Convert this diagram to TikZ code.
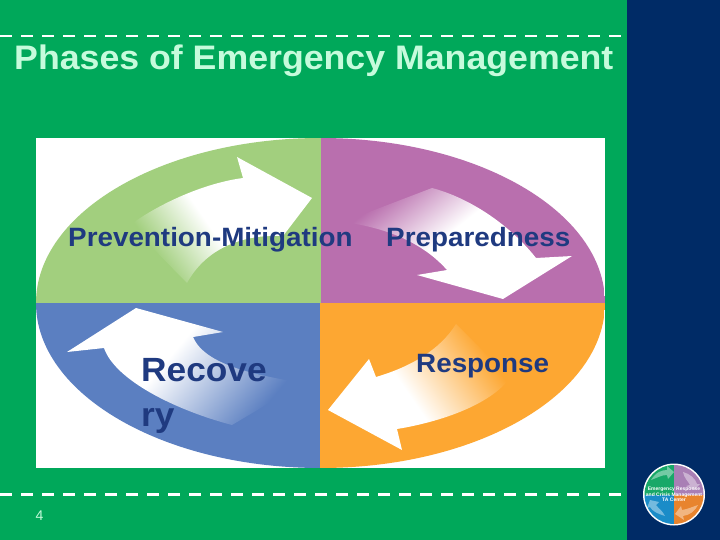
\documentclass[tikz,border=0pt]{standalone}
\usepackage{fontspec}
\setmainfont{Liberation Sans}
\definecolor{bggreen}{HTML}{00A85A}
\definecolor{navy}{HTML}{002B66}
\definecolor{titlec}{HTML}{C6FBDC}
\definecolor{pgreen}{HTML}{A2CF7E}
\definecolor{ppurple}{HTML}{B96FAE}
\definecolor{pblue}{HTML}{5B7FC1}
\definecolor{porange}{HTML}{FDA732}
\definecolor{labelc}{HTML}{1F3A80}
\definecolor{lgreen}{HTML}{18A868}
\definecolor{lpurple}{HTML}{A97FB5}
\definecolor{lblue}{HTML}{1A8CC8}
\definecolor{lorange}{HTML}{E8842E}
\pgfdeclarehorizontalshading{fadegreen}{100bp}{color(0bp)=(pgreen); color(27bp)=(pgreen); color(46bp)=(white); color(100bp)=(white)}
\pgfdeclarehorizontalshading{fadepurple}{100bp}{color(0bp)=(ppurple); color(25bp)=(ppurple); color(46bp)=(white); color(100bp)=(white)}
\pgfdeclarehorizontalshading{fadeblue}{100bp}{color(0bp)=(white); color(45bp)=(white); color(74bp)=(pblue); color(100bp)=(pblue)}
\pgfdeclarehorizontalshading{fadeorange}{100bp}{color(0bp)=(white); color(46bp)=(white); color(73.5bp)=(porange); color(100bp)=(porange)}
\newfontfamily\labelfont[FakeStretch=1.05]{Liberation Sans Bold}
\tikzset{
  x=1pt,y=-1pt,
  label/.style={text=labelc,anchor=base west,inner sep=0pt},
  dashline/.style={draw=white,line width=2.4pt,dash pattern=on 12.4pt off 8.6pt},
  txt/.style={inner sep=0pt}
}
\begin{document}
\begin{tikzpicture}
\useasboundingbox (0,0) rectangle (720,540);
\fill[bggreen] (0,0) rectangle (720,540);
\fill[navy] (627,0) rectangle (720,540);
\coordinate (t1) at (0,36.2);
\coordinate (t2) at (622,36.2);
\coordinate (b1) at (0,494.4);
\coordinate (b2) at (622,494.4);
\draw[dashline] (t1) -- (t2);
\draw[dashline] (b1) -- (b2);
\node[txt,anchor=base west,text=titlec,font=\labelfont\fontsize{34}{34}\selectfont] (title) at (14,70) {Phases of Emergency Management};
\fill[white] (36,138) rectangle (605,468);
\begin{scope}
\clip (320.5,303) ellipse [x radius=284.5pt,y radius=165pt];
\fill[pgreen] (36,138) rectangle (321,303);
\fill[ppurple] (321,138) rectangle (605,303);
\fill[pblue] (36,303) rectangle (320,468);
\fill[porange] (320,303) rectangle (605,468);
\end{scope}
% green arrow
\shade[shading=fadegreen,shading angle=34.7]
 (130,225) .. controls (160,203) and (205,183) .. (243,178) -- (237,157) -- (312,198) -- (283,236)
 .. controls (240,234) and (205,250) .. (187,283) -- cycle;
% purple arrow
\shade[shading=fadepurple,shading angle=-51.7]
 (432,188) .. controls (470,198) and (510,225) .. (536,258) -- (572,256) -- (503,299) -- (417,275) -- (447,270)
 .. controls (425,245) and (390,228) .. (343,222) -- cycle;
% blue arrow
\shade[shading=fadeblue,shading angle=-40]
 (136,308) -- (223,332) -- (193,337) .. controls (205,365) and (255,375) .. (303,383) -- (232,425)
 .. controls (175,410) and (115,380) .. (104,348) -- (67,352) -- cycle;
% orange arrow
\shade[shading=fadeorange,shading angle=34.7]
 (456,324) .. controls (440,350) and (410,367) .. (376,377) -- (369,359) -- (328,410) -- (402,450) -- (397,429)
 .. controls (440,422) and (490,405) .. (510,378) -- cycle;
\node[label,font=\labelfont\fontsize{26.5}{26.5}\selectfont] (pm) at (68,246) {Prevention-Mitigation};
\node[label,font=\labelfont\fontsize{26.5}{26.5}\selectfont] (pr) at (386,246) {Preparedness};
\node[label,font=\labelfont\fontsize{26.5}{26.5}\selectfont] (re) at (416,372) {Response};
\node[label,font=\labelfont\fontsize{33.6}{33.6}\selectfont] (r1) at (141,381) {Recove};
\node[label,font=\labelfont\fontsize{33.6}{33.6}\selectfont] (r2) at (141,426) {ry};
\node[txt,anchor=base west,text=titlec,font=\fontsize{14}{14}\selectfont] (num) at (35.5,520.5) {4};
% logo
\begin{scope}
\fill[white] (674,494.5) circle (31);
\clip (674,494.5) circle (29.5);
\fill[lgreen] (644,464) rectangle (674,494.5);
\fill[lpurple] (674,464) rectangle (704,494.5);
\fill[lblue] (644,494.5) rectangle (674,525);
\fill[lorange] (674,494.5) rectangle (704,525);
\fill[white,opacity=.4] (651,480) .. controls (656,472) and (662,470) .. (667,470) -- (667,466) -- (674,472) -- (668,479) -- (667,475) .. controls (661,475) and (657,478) .. (651,480) -- cycle;
\fill[white,opacity=.4] (683,472) .. controls (690,474) and (695,478) .. (697,484) -- (700,484) -- (694,490) -- (686,486) -- (690,485) .. controls (688,481) and (684,478) .. (683,472) -- cycle;
\fill[white,opacity=.4] (665,516) .. controls (658,514) and (652,511) .. (650,507) -- (647,508) -- (650,500) -- (659,502) -- (656,505) .. controls (658,508) and (662,510) .. (665,516) -- cycle;
\fill[white,opacity=.4] (698,505) .. controls (695,511) and (690,515) .. (683,516) -- (684,520) -- (675,514) -- (681,506) -- (682,510) .. controls (688,509) and (692,507) .. (698,505) -- cycle;
\end{scope}
\node[txt,align=center,text=white,font=\bfseries\fontsize{5}{5.4}\selectfont] (logo) at (674,494.5) {Emergency Response\\and Crisis Management\\TA Center};
\end{tikzpicture}
\end{document}
